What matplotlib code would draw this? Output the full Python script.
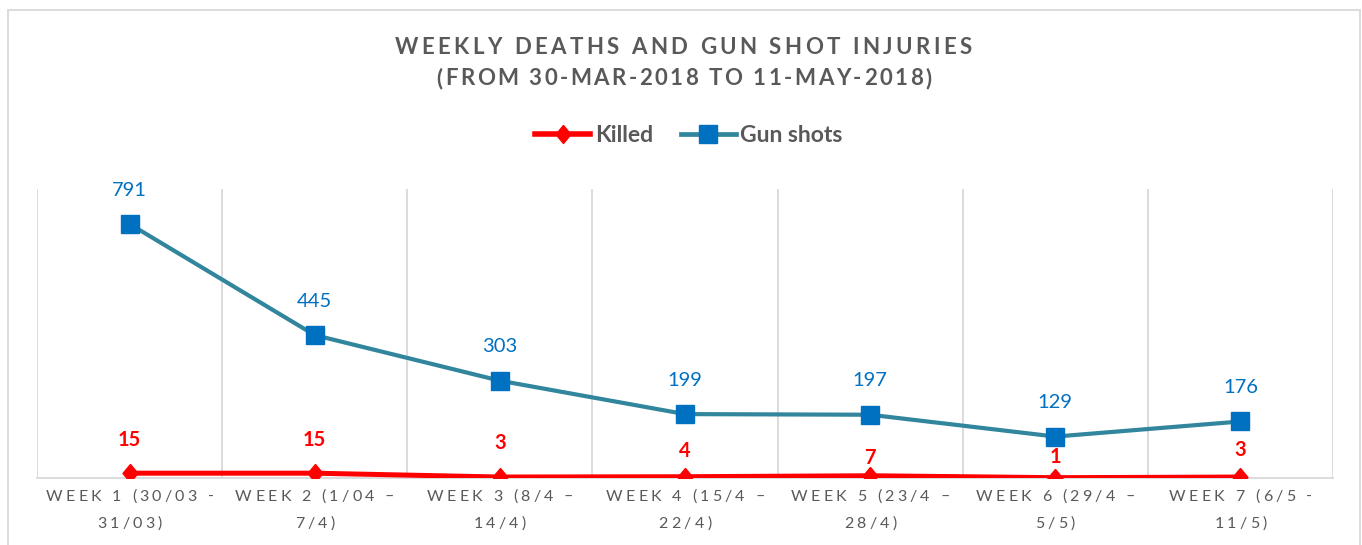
import matplotlib
matplotlib.use("Agg")
import matplotlib.pyplot as plt
from matplotlib.font_manager import FontProperties
from matplotlib.lines import Line2D
from matplotlib.patches import Rectangle

week_labels = ["WEEK 1 (30/03 - 31/03)", "WEEK 2 (1/04 \u2013 7/4)", "WEEK 3 (8/4 \u2013 14/4)",
               "WEEK 4 (15/4 \u2013 22/4)", "WEEK 5 (23/4 \u2013 28/4)", "WEEK 6 (29/4 \u2013 5/5)",
               "WEEK 7 (6/5 - 11/5)"]
killed = [15, 15, 3, 4, 7, 1, 3]
gun_shots = [791, 445, 303, 199, 197, 129, 176]

title_lines = ["WEEKLY DEATHS AND GUN SHOT INJURIES", "(FROM 30-MAR-2018 TO 11-MAY-2018)"]

# label offsets above points (px), the red ones were nudged by hand in the original
killed_offsets = [33, 33, 34, 26, 18, 21, 27]
gun_offset = 34

W, H = 1362, 545
GRAY = "#595959"
RED = "#FF0000"
TEAL = "#31859C"
BLUE = "#0070C0"
GRID = "#D9D9D9"

fig = plt.figure(figsize=(W / 100, H / 100), dpi=100)
fig.patch.set_facecolor("white")
fig.patches.append(Rectangle((8 / W, -0.01), (1360 - 8) / W, 1.01 - 10 / H,
                             transform=fig.transFigure, fill=False,
                             edgecolor=GRID, linewidth=1.3))

ax = fig.add_axes([37 / W, 1 - 478 / H, (1333 - 37) / W, (478 - 189) / H])
x = list(range(len(week_labels)))

diamond = [(0, 1), (0.83, 0), (0, -1), (-0.83, 0), (0, 1)]
ax.plot(x, gun_shots, color=TEAL, lw=3.0, marker="s", ms=13,
        mfc=BLUE, mec=BLUE, zorder=3)
ax.plot(x, killed, color=RED, lw=3.6, marker=diamond, ms=13,
        mfc=RED, mec=RED, zorder=4)

ax.set_xlim(-0.5, len(x) - 0.5)
ax.set_ylim(0, 900)
ax.set_xticks([i - 0.5 for i in range(len(x) + 1)], minor=True)
ax.set_xticks([])
ax.set_yticks([])
ax.grid(True, which="minor", axis="x", color=GRID, lw=1.3)
ax.tick_params(which="both", length=0)
for s in ["top", "right", "left"]:
    ax.spines[s].set_visible(False)
ax.spines["bottom"].set_color(GRID)
ax.spines["bottom"].set_linewidth(1.3)

lab_font = "Lato"
for i, v in enumerate(gun_shots):
    ax.annotate(str(v), (i, v), xytext=(0, gun_offset), textcoords="offset pixels",
                ha="center", va="center", color=BLUE, fontsize=14.5, family=lab_font)
for i, v in enumerate(killed):
    ax.annotate(str(v), (i, v), xytext=(0, killed_offsets[i]), textcoords="offset pixels",
                ha="center", va="center", color=RED, fontsize=14.5, family=lab_font,
                fontweight="bold")

renderer = fig.canvas.get_renderer()


def char_width(ch, fp):
    a = renderer.get_text_width_height_descent("H" + ch + "H", fp, ismath=False)[0]
    b = renderer.get_text_width_height_descent("HH", fp, ismath=False)[0]
    return a - b


def natural_width(s, fp):
    return sum(char_width(c, fp) for c in s)


def spaced_text(xc, y_base, s, fp, track, color):
    widths = [char_width(c, fp) for c in s]
    total = sum(widths) + track * (len(s) - 1)
    xp = xc - total / 2
    for c, w in zip(s, widths):
        if c != " ":
            fig.text(xp / W, 1 - y_base / H, c, fontproperties=fp, color=color,
                     ha="left", va="baseline")
        xp += w + track


# title, letter-spaced like the original
title_fp = FontProperties(family="Lato", weight="bold", size=16)
for line, xc, yb, target in [(title_lines[0], 683, 54, 577), (title_lines[1], 684, 85, 495)]:
    tr = (target - natural_width(line, title_fp)) / (len(line) - 1)
    spaced_text(xc, yb, line, title_fp, tr, GRAY)

# category labels, wrapped onto two lines
tick_fp = FontProperties(family="Lato", size=11.5)
first = week_labels[0].rsplit(" ", 1)[0]
track_k = (168 - natural_width(first, tick_fp)) / (len(first) - 1)
for i, lab in enumerate(week_labels):
    l1, l2 = lab.rsplit(" ", 1)
    xc = ax.transData.transform((i, 0))[0]
    spaced_text(xc, 501, l1, tick_fp, track_k, GRAY)
    spaced_text(xc, 528, l2, tick_fp, track_k, GRAY)

handles = [Line2D([], [], color=RED, lw=4.0, marker=diamond, ms=13, mfc=RED, mec=RED),
           Line2D([], [], color=TEAL, lw=3.4, marker="s", ms=13, mfc=BLUE, mec=BLUE)]
fig.legend(handles, ["Killed", "Gun shots"], loc="center", ncol=2,
           bbox_to_anchor=(689 / W, 1 - 136 / H), frameon=False,
           prop=FontProperties(family="Lato", weight="bold", size=16.5),
           labelcolor=GRAY, handlelength=2.4, handletextpad=0.2, columnspacing=1.2)

fig.savefig("out.png", dpi=100)
